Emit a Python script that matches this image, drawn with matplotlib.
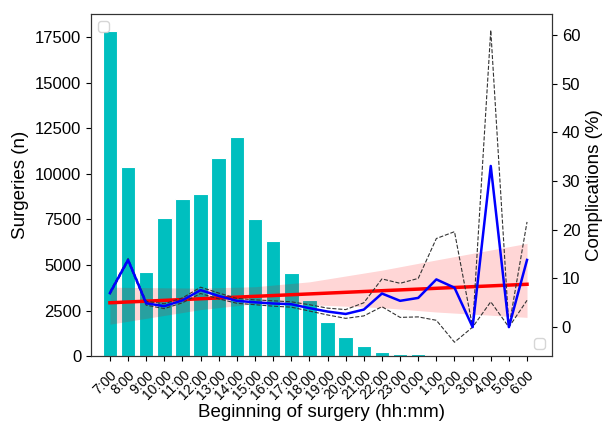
import matplotlib
matplotlib.use("Agg")
import matplotlib.pyplot as plt
import numpy as np

plt.rcParams['font.family'] = ['Liberation Sans', 'DejaVu Sans']

hours = ["7:00", "8:00", "9:00", "10:00", "11:00", "12:00", "13:00", "14:00",
         "15:00", "16:00", "17:00", "18:00", "19:00", "20:00", "21:00", "22:00",
         "23:00", "0:00", "1:00", "2:00", "3:00", "4:00", "5:00", "6:00"]
surgeries = [17830, 10370, 4610, 7570, 8610, 8890, 10860, 12010,
             7520, 6310, 4550, 3070, 1870, 1040, 550, 250,
             100, 90, 20, 10, 5, 5, 5, 40]
complications = [7.0, 13.8, 4.9, 4.3, 5.5, 7.6, 6.4, 5.4,
                 5.1, 4.85, 4.7, 3.9, 3.2, 2.7, 3.6, 6.9,
                 5.4, 6.0, 9.8, 8.1, 0.0, 33.1, 0.0, 13.8]
ci_upper = [7.3, 14.1, 5.3, 4.8, 6.0, 8.2, 7.0, 5.9,
            5.6, 5.4, 5.2, 4.6, 3.9, 3.6, 5.0, 9.9,
            9.0, 10.0, 18.2, 19.6, 0.0, 61.0, 0.0, 21.6]
ci_lower = [6.7, 13.5, 4.5, 3.8, 5.0, 6.9, 5.8, 4.9,
            4.6, 4.3, 4.1, 3.3, 2.5, 1.8, 2.3, 4.2,
            2.0, 2.1, 1.4, -3.1, 0.0, 5.2, 0.0, 5.5]
trend_x = [0, 23]
trend_y = [5.0, 8.8]
band_x = [0, 5, 8, 11, 15, 18, 23]
band_upper = [8.2, 8.0, 8.3, 9.3, 11.7, 13.8, 17.2]
band_lower = [0.6, 3.6, 4.8, 4.6, 4.0, 3.1, 2.0]

fig = plt.figure(figsize=(6.1, 4.26), dpi=100)
ax = fig.add_axes([0.149, 0.164, 0.756, 0.803])
x = np.arange(len(hours))
ax.bar(x, surgeries, width=0.8, color='#00bfbf', edgecolor='white', linewidth=0.8)
ax.set_ylim(0, 18760)
ax.set_xlim(-1.05, 24.38)
ax.set_yticks([0, 2500, 5000, 7500, 10000, 12500, 15000, 17500])
ax.set_xticks(x)
ax.set_xticklabels(hours, rotation=45, ha='right', rotation_mode='anchor', fontsize=10)
ax.tick_params(axis='x', pad=5)
ax.tick_params(axis='y', labelsize=12)
ax.set_ylabel("Surgeries (n)", fontsize=13.5)
ax.set_xlabel("Beginning of surgery (hh:mm)", fontsize=13.5, labelpad=1)
ax.legend(handles=[], loc='upper left')

ax2 = ax.twinx()
ax2.set_ylim(-5.96, 64.3)
ax2.set_yticks([0, 10, 20, 30, 40, 50, 60])
ax2.tick_params(axis='y', labelsize=12)
ax2.set_ylabel("Complications (%)", fontsize=13.5)
ax2.fill_between(band_x, band_lower, band_upper, color='red', alpha=0.16, linewidth=0)
ax2.plot(trend_x, trend_y, color='red', lw=2.5)
ax2.plot(x, ci_upper, color='#333333', lw=0.8, ls='--')
ax2.plot(x, ci_lower, color='#333333', lw=0.8, ls='--')
ax2.plot(x, complications, color='blue', lw=1.8)
ax2.legend(handles=[], loc='lower right')

for a in (ax, ax2):
    for s in a.spines.values():
        s.set_color('#333333')

fig.savefig("out.png", dpi=100)
